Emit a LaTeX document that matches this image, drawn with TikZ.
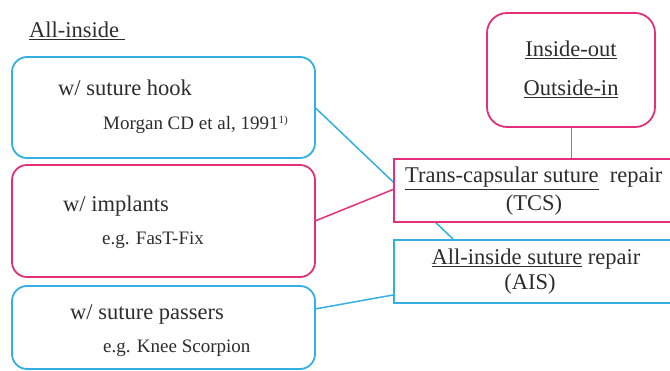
\documentclass[tikz,border=0pt]{standalone}
\usepackage{fontspec}
\setmainfont{Liberation Serif}
\newfontfamily\tnr{Liberation Serif}
\definecolor{skyb}{RGB}{50,176,228}
\definecolor{rose}{RGB}{228,48,122}
\definecolor{ink}{RGB}{45,45,45}
\begin{document}
\begin{tikzpicture}[x=1pt,y=-1pt,
  rbox/.style={draw=#1,line width=1.8pt,rounded corners=15pt,fill=white,inner sep=0pt},
  sbox/.style={draw=#1,line width=2.2pt,fill=white,inner sep=0pt},
  link/.style={draw=#1,line width=1.5pt},
  big/.style={text=ink,inner sep=0pt,font=\tnr\fontsize{22.5}{27}\selectfont},
  small/.style={text=ink,inner sep=0pt,font=\tnr\fontsize{19}{23}\selectfont}]
\useasboundingbox (0,0) rectangle (670,371);
\clip (0,0) rectangle (670,371);
% connector coordinates
\coordinate (hookE) at (315,107.5);
\coordinate (implE) at (315,221);
\coordinate (passE) at (315,309);
\coordinate (aisTop) at (453,239);
\coordinate (tcsW) at (393,189.5);
\coordinate (aisW) at (393,295);
\coordinate (ioS) at (571,127);
\coordinate (tcsN) at (571,158);
\draw[link=skyb] (hookE) -- (aisTop);
\draw[link=rose] (implE) -- (tcsW);
\draw[link=skyb] (passE) -- (aisW);
\draw[draw=rose!85,line width=1pt] (ioS) -- (tcsN);
% boxes
\node[rbox=skyb,minimum width=303pt,minimum height=101pt] (hook) at (163.5,107.5) {};
\node[rbox=rose,minimum width=303pt,minimum height=112pt] (impl) at (163.5,221) {};
\node[rbox=skyb,minimum width=303pt,minimum height=83pt] (pass) at (163.5,327.5) {};
\node[rbox=rose,rounded corners=20pt,minimum width=168pt,minimum height=114pt] (io) at (571,70) {};
\node[sbox=rose,minimum width=300pt,minimum height=63pt,anchor=north west] (tcs) at (393,158) {};
\node[sbox=skyb,minimum width=300pt,minimum height=63pt,anchor=north west] (ais) at (393,239) {};
% texts
\node[big,anchor=base west] (tall) at (29,38) {\underline{All-inside\ }};
\node[big,anchor=base west] (thook) at (58,96) {w/ suture hook};
\node[small,anchor=base west] (tmorgan) at (103,130) {Morgan CD et al, 1991\raisebox{6pt}{\fontsize{11}{13}\selectfont 1)}};
\node[big,anchor=base west] (timpl) at (63,212) {w/ implants};
\node[small,anchor=base west] (tfast) at (102,245) {e.g. FasT-Fix};
\node[big,anchor=base west] (tpass) at (70,320) {w/ suture passers};
\node[small,anchor=base west] (tknee) at (103,353) {e.g. Knee Scorpion};
\node[big,anchor=base] (tio) at (571,57) {\underline{Inside-out}};
\node[big,anchor=base] (toi) at (571,96) {\underline{Outside-in}};
\node[big,anchor=base west] (ttcs) at (405,183) {\underline{Trans-capsular suture}\ \ repair};
\node[big,anchor=base] (ttcs2) at (534,211) {(TCS)};
\node[big,anchor=base] (tais) at (536,265) {\underline{All-inside suture} repair};
\node[big,anchor=base] (tais2) at (530,290) {(AIS)};
\end{tikzpicture}
\end{document}
